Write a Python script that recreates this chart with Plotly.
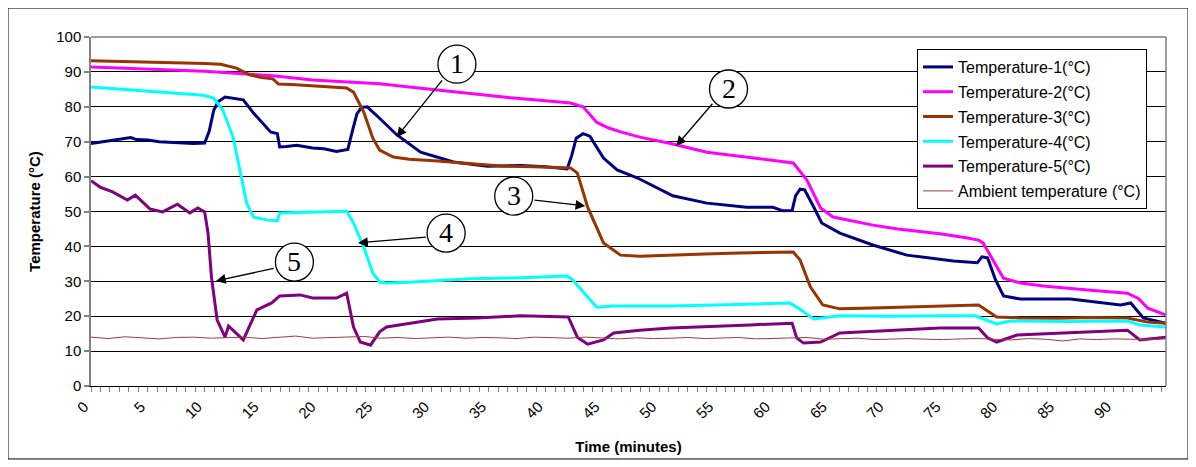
import plotly.graph_objects as go

# ---------------- data ----------------
t1_time = [0, 1, 2, 3, 3.5, 4, 5, 6, 7, 8, 9, 10, 10.4, 10.8, 11.2, 11.8, 12.5, 13.4, 14.3, 15.2,
           15.8, 16.4, 16.6, 17.2, 18.1, 19.5, 20.5, 21.6, 22.6, 23.0, 23.4, 23.8, 24.3, 25.3, 26.9, 29,
           31.9, 34.9, 37.8, 40, 41.9, 42.3, 42.7, 43.3, 43.9, 45.1, 46.3, 48.1, 51.2, 54.2, 57.7, 60,
           60.9, 61.7, 62.0, 62.4, 62.8, 63.6, 64.3, 65.9, 68.8, 71.8, 74.7, 75.9, 78.0, 78.4, 78.9,
           79.6, 80.3, 81.8, 86.2, 90.6, 91.5, 92.6, 94.6]
temp1 = [69.5, 70, 70.5, 70.8, 71.2, 70.6, 70.5, 70, 69.8, 69.5, 69.5, 69.6, 73, 79, 81.5, 82.8, 82.4,
         82, 78.2, 75, 72.8, 72.3, 68.5, 68.6, 69, 68.2, 68, 67.2, 67.8, 73, 78, 79.8, 80, 77, 72, 67,
         64.2, 63, 63.2, 62.8, 62.2, 66, 71, 72.3, 71.6, 65.3, 61.9, 59.6, 54.5, 52.4, 51.2, 51.2, 50.2,
         50.3, 54.5, 56.4, 56.2, 51.3, 46.7, 43.8, 40.4, 37.5, 36.4, 35.8, 35.3, 37, 36.7, 30.4, 25.8,
         24.9, 24.9, 23.2, 23.8, 19.5, 18]

t2_time = [0, 3, 7.8, 10, 13.7, 16, 19.5, 22, 25.4, 28, 30.5, 33, 36.3, 39, 42.2, 43.3, 44.5, 45.5,
           46.6, 48.3, 51, 54.2, 57, 60, 61.8, 63, 64.2, 65.3, 68.8, 71, 74.7, 77, 78.1, 78.5, 79.4,
           80.3, 81.8, 84, 87.7, 91.2, 92.2, 93, 94.6]
temp2 = [91.4, 91, 90.4, 90.2, 89.4, 88.9, 87.7, 87.3, 86.6, 85.7, 84.8, 84, 82.8, 82, 81.1, 80, 75.6,
         74, 72.8, 71.3, 69.5, 67, 65.9, 64.8, 63.9, 59, 51, 48.4, 46.1, 45, 43.6, 42.5, 41.8, 41, 36,
         30.9, 29.5, 28.6, 27.5, 26.6, 25, 22.3, 20.3]

t3_time = [0, 3, 5, 7.8, 10, 11.4, 12.8, 14, 15, 16, 16.5, 18, 19.5, 21, 22.5, 23.1, 24, 24.8, 25.4,
           26.6, 28, 30.5, 33, 36.3, 39, 42.2, 42.8, 43.7, 45.1, 46.6, 48.3, 51, 54, 57.1, 61.8, 62.4,
           63.3, 64.4, 65.9, 68, 71.8, 74.7, 78.1, 79.7, 81.8, 85, 88, 91.2, 93, 94.6]
temp3 = [93.2, 93, 92.8, 92.6, 92.4, 92.2, 91.1, 89.1, 88.4, 88, 86.5, 86.3, 86, 85.8, 85.4, 84.2, 78.5,
         71, 67.6, 65.6, 65, 64.5, 63.9, 63, 62.8, 62.5, 61, 51.3, 41, 37.5, 37.2, 37.4, 37.8, 38.1,
         38.4, 36.1, 28.4, 23.2, 22.1, 22.3, 22.6, 22.9, 23.2, 19.8, 19.5, 19.4, 19.6, 19.5, 18.3, 18]

t4_time = [0, 4.9, 9.9, 10.8, 11.6, 12.5, 13.1, 13.7, 14.3, 15.5, 16.4, 16.6, 19, 22.5, 23.1, 24,
           24.8, 25.4, 26, 28, 33.4, 38, 41.9, 42.4, 43.7, 44.5, 46, 51, 56, 61.5, 62.1, 63.6, 65.9,
           70, 74.7, 77.8, 79.7, 80.9, 86, 91.2, 92.3, 94.6]
temp4 = [85.7, 84.5, 83.3, 82.5, 79, 71.4, 61.9, 52.4, 48.4, 47.6, 47.3, 49.6, 49.8, 50.1, 46.7, 39.8,
         32.4, 29.8, 29.5, 29.7, 30.7, 31, 31.5, 30.4, 25.5, 22.6, 22.9, 22.9, 23.3, 23.8, 22.6, 19.2,
         20.1, 20, 20.1, 20.1, 17.8, 18.6, 18.5, 18.6, 17.5, 16.9]

t5_time = [0, 0.8, 1.9, 3.2, 3.9, 5.2, 6.3, 7.6, 8.7, 9.4, 10, 10.3, 10.6, 11.1, 11.8, 12.1, 13.4,
           14.6, 15.9, 16.6, 18.4, 19.5, 21.6, 22.5, 23.1, 23.7, 24.6, 25.4, 26, 28, 30.5, 34, 37.8,
           42, 42.8, 43.7, 45.1, 46, 48.3, 51, 55, 58, 61.7, 62.1, 62.7, 64.2, 65.9, 70, 74.7, 78.1,
           78.9, 79.7, 81.5, 84, 87.7, 91.2, 92.3, 94.6]
temp5 = [58.8, 57, 55.6, 53.3, 54.7, 50.7, 49.9, 52.1, 49.6, 51, 49.9, 43.8, 31.2, 18.9, 14, 17.2,
         13.2, 21.8, 23.8, 25.8, 26.1, 25.2, 25.2, 26.6, 16.9, 12.6, 11.7, 15.5, 16.9, 18, 19.2, 19.5,
         20.1, 19.8, 14, 12, 13.2, 15.2, 16, 16.6, 17, 17.5, 18, 13.8, 12.3, 12.6, 15.2, 15.8, 16.6,
         16.6, 13.8, 12.6, 14.6, 15, 15.5, 16, 13.2, 14]

amb_time = [0, 1.5, 3, 4.5, 6, 7.5, 9, 10.5, 12, 13.5, 15, 16.5, 18, 19.5, 21, 22.5, 24, 25.5, 27,
            28.5, 30, 31.5, 33, 34.5, 36, 37.5, 39, 40.5, 42, 43.5, 45, 46.5, 48, 49.5, 51, 52.5, 54,
            55.5, 57, 58.5, 60, 61.5, 63, 64.5, 66, 67.5, 69, 70.5, 72, 73.5, 75, 76.5, 78, 79.5, 81,
            82.5, 84, 85.5, 87, 88.5, 90, 91.5, 93, 94.6]
ambient = [14.0, 13.6, 14.1, 13.8, 13.5, 13.9, 14.0, 13.7, 13.9, 14.0,
           13.6, 13.9, 14.3, 13.7, 13.8, 14.0, 14.2, 13.7, 13.9, 13.6,
           13.8, 14.0, 13.7, 13.9, 13.8, 13.6, 14.0, 13.8, 13.7, 14.0,
           13.8, 13.5, 13.8, 13.6, 13.7, 13.9, 13.6, 13.8, 13.9, 13.5,
           13.7, 13.8, 13.9, 13.4, 13.6, 13.7, 13.3, 13.5, 13.6, 13.4,
           13.3, 13.5, 13.6, 13.4, 13.2, 13.6, 13.4, 12.9, 13.5, 13.3,
           13.5, 13.4, 13.3, 13.5]

series_names = ["Temperature-1(°C)", "Temperature-2(°C)", "Temperature-3(°C)",
                "Temperature-4(°C)", "Temperature-5(°C)", "Ambient temperature (°C)"]
series_colors = ["#000080", "#FF00FF", "#993300", "#00FFFF", "#800080", "#A03C3C"]
series_widths = [3, 3, 3, 3, 3, 1]

# callouts: label, circle centre (time, temp), arrow tail, arrow head
callout_labels = ["1", "2", "3", "4", "5"]
callout_center = [(32.2, 92.2), (56.1, 85.1), (37.2, 54.4), (31.25, 43.8), (17.9, 35.5)]
callout_tail = [(31.0, 88.0), (54.8, 81.3), (38.9, 53.3), (29.6, 42.7), (16.2, 33.8)]
callout_head = [(26.9, 71.3), (51.5, 68.8), (43.5, 51.6), (23.5, 41.0), (11.0, 30.1)]

FONT = "Liberation Sans, Arial, sans-serif"

fig = go.Figure()
all_t = [t1_time, t2_time, t3_time, t4_time, t5_time, amb_time]
all_v = [temp1, temp2, temp3, temp4, temp5, ambient]
for i in range(6):
    fig.add_trace(go.Scatter(
        x=all_t[i], y=all_v[i], mode="lines", name=series_names[i],
        legendgroup="g%d" % i,
        line=dict(color=series_colors[i], width=series_widths[i]),
        hoverinfo="skip"))

shapes = []
annotations = []
# plot area border (top/right, gray)
shapes.append(dict(type="line", xref="paper", yref="paper", x0=0, x1=1, y0=1, y1=1,
                   line=dict(color="#808080", width=1.5), layer="above"))
shapes.append(dict(type="line", xref="paper", yref="paper", x0=1, x1=1, y0=0, y1=1,
                   line=dict(color="#808080", width=1.5), layer="above"))
# outer chart frame
shapes.append(dict(type="rect", xref="paper", yref="paper", x0=-0.0772, x1=1.0205,
                   y0=-0.209, y1=1.083, line=dict(color="black", width=1)))

for i in range(5):
    cx, cy = callout_center[i]
    tx, ty = callout_tail[i]
    hx, hy = callout_head[i]
    annotations.append(dict(x=hx, y=hy, ax=tx, ay=ty, xref="x", yref="y", axref="x", ayref="y",
                            text="", showarrow=True, arrowhead=2, arrowsize=1.5,
                            arrowwidth=1.3, arrowcolor="black", standoff=0, startstandoff=0))
    shapes.append(dict(type="circle", xref="x", yref="y", xsizemode="pixel", ysizemode="pixel",
                       xanchor=cx, yanchor=cy, x0=-19, x1=19, y0=-19, y1=19,
                       fillcolor="white", line=dict(color="black", width=1.3), layer="above"))
    annotations.append(dict(x=cx, y=cy, xref="x", yref="y", text=callout_labels[i],
                            showarrow=False, font=dict(family="Liberation Serif, Times New Roman, serif",
                                                       size=28, color="black"),
                            yshift=1))

# the page body adds an 8px offset, so the figure is 8px smaller and margins shifted
fig.update_layout(
    width=1188, height=459, autosize=False,
    margin=dict(l=83, r=30, t=29, b=81),
    paper_bgcolor="white", plot_bgcolor="white",
    font=dict(family=FONT, size=15, color="black"),
    showlegend=True,
    legend=dict(x=0.7684, y=0.9656, xanchor="left", yanchor="top",
                bgcolor="white", bordercolor="black", borderwidth=1,
                font=dict(family=FONT, size=16, color="black"),
                tracegroupgap=1, itemwidth=30),
    xaxis=dict(range=[0, 94.6], tickmode="linear", tick0=0, dtick=5, tickangle=-45,
               ticks="outside", ticklen=5, tickcolor="#808080", tickwidth=1,
               ticklabelshift=-7,
               showline=True, linecolor="black", linewidth=1, showgrid=False, zeroline=False,
               tickfont=dict(family=FONT, size=15, color="black"),
               minor=dict(dtick=5 / 6, tick0=0, ticks="outside", ticklen=5, tickcolor="#808080",
                          showgrid=False),
               title=dict(text="<b>Time (minutes)</b>", font=dict(family=FONT, size=15),
                          standoff=20)),
    yaxis=dict(range=[0, 100], tickmode="linear", tick0=0, dtick=10,
               ticks="outside", ticklen=5, tickcolor="#808080", tickwidth=1.5,
               showline=True, linecolor="#808080", linewidth=1.5,
               showgrid=True, gridcolor="black", gridwidth=1, zeroline=False,
               tickfont=dict(family=FONT, size=15, color="black"),
               title=dict(text="<b>Temperature (°C)</b>", font=dict(family=FONT, size=15),
                          standoff=12)),
    shapes=shapes, annotations=annotations,
)

fig.write_html("out.html")
